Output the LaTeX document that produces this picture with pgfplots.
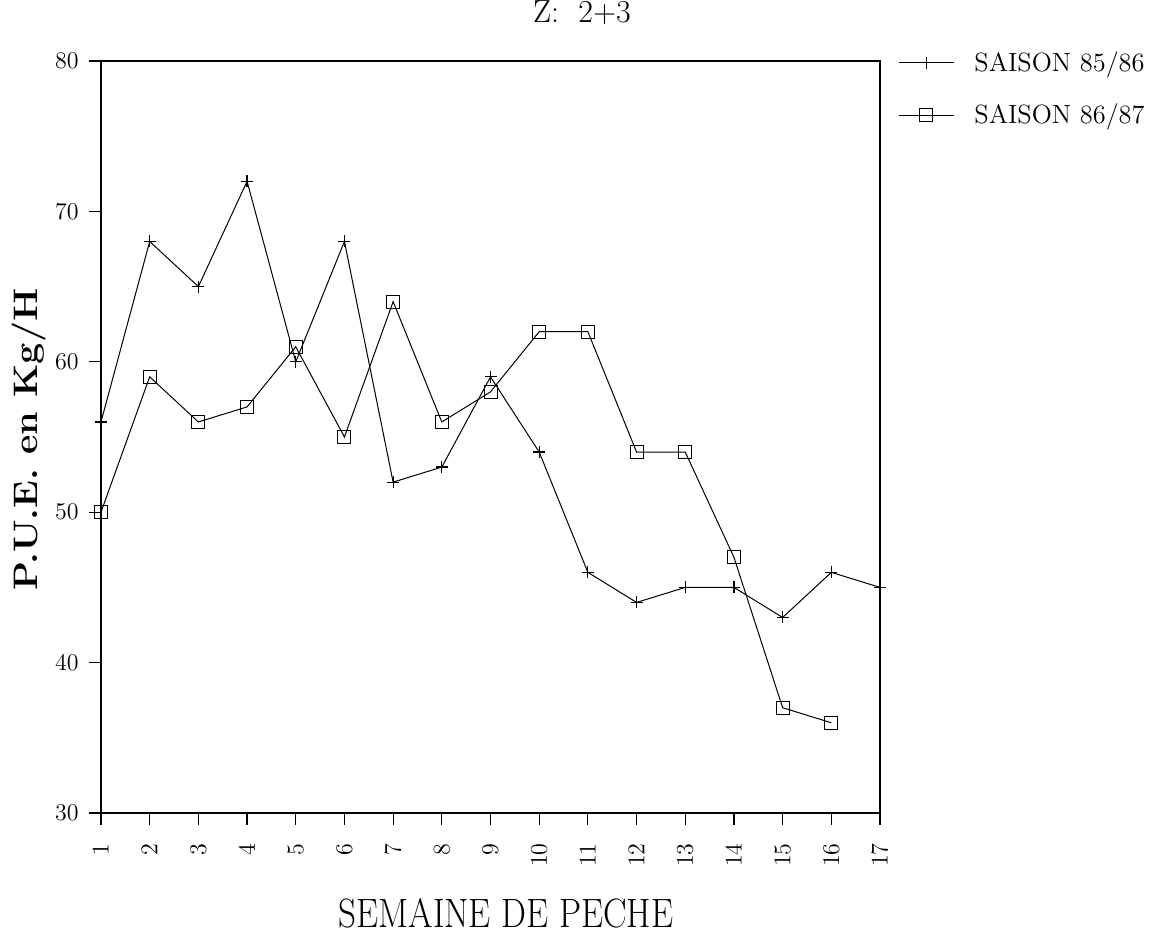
\documentclass[border=0pt]{standalone}
\usepackage{pgfplots}
\pgfplotsset{compat=1.18}
\usepackage{graphicx}
\begin{document}
\begin{tikzpicture}
\useasboundingbox (-50.5pt,-65pt) rectangle (527.5pt,406.5pt);
\begin{axis}[
  at={(0pt,0pt)}, anchor=south west,
  scale only axis, width=389.5pt, height=376pt,
  xmin=1, xmax=17, ymin=30, ymax=80,
  xtick={1,...,17}, ytick={30,40,...,80},
  xtick pos=left, ytick pos=left,
  tick align=outside, major tick length=6pt,
  clip=false,
  axis line style={line width=0.7pt},
  every tick/.style={black, line width=0.6pt},
  xticklabel style={rotate=90, anchor=east, font=\fontsize{13}{15}\selectfont, inner sep=0pt, xshift=-9pt},
  yticklabel style={anchor=east, font=\fontsize{12}{14}\selectfont, inner sep=0pt, xshift=-5pt},
  title={Z:\ \ 2+3},
  title style={at={(axis description cs:0.6175,1.0346)}, anchor=base, font=\fontsize{16}{18}\selectfont, inner sep=0pt},
  xlabel={\scalebox{0.858}[1]{SEMAINE DE PECHE}},
  xlabel style={at={(axis description cs:0.52,-0.1529)}, anchor=base, font=\fontsize{20.5}{24}\selectfont, inner sep=0pt},
  ylabel={\bfseries\scalebox{1.11}[1]{P.U.E. en Kg/H}},
  ylabel style={at={(axis description cs:-0.0924,0.497)}, anchor=center, font=\fontsize{17}{20}\selectfont, inner sep=0pt},
  legend style={at={(axis description cs:1,1)}, anchor=north west, xshift=9pt, yshift=5pt,
    draw=none, fill=none, inner sep=0pt, font=\fontsize{13.2}{15}\selectfont, row sep=14.8pt,
    nodes={inner sep=0pt},
    /tikz/every odd column/.append style={column sep=10pt}},
  legend cell align=left,
  legend image code/.code={\draw[mark repeat=2,mark phase=2,#1] plot coordinates {(0pt,0pt) (13.75pt,0pt) (27.5pt,0pt)};},
]
\addplot[black, line width=0.5pt, mark=+, mark size=3pt, mark options={solid, line width=0.6pt}] coordinates {
(1,56)(2,68)(3,65)(4,72)(5,60)(6,68)(7,52)(8,53)(9,59)(10,54)(11,46)(12,44)(13,45)(14,45)(15,43)(16,46)(17,45)};
\addlegendentry{SAISON 85/86}
\addplot[black, line width=0.5pt, mark=square, mark size=3.25pt, mark options={solid, line width=0.5pt}] coordinates {
(1,50)(2,59)(3,56)(4,57)(5,61)(6,55)(7,64)(8,56)(9,58)(10,62)(11,62)(12,54)(13,54)(14,47)(15,37)(16,36)};
\addlegendentry{SAISON 86/87}
\end{axis}
\end{tikzpicture}
\end{document}
